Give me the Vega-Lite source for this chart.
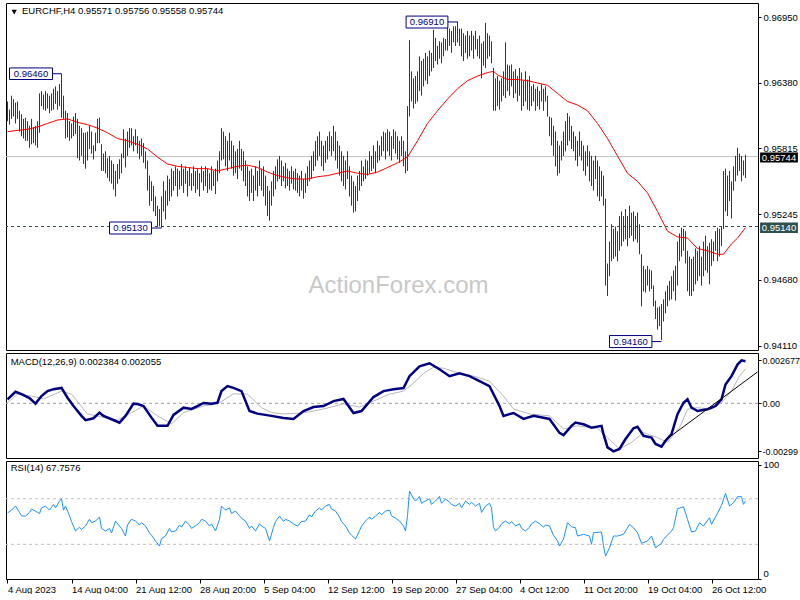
{
"$schema": "https://vega.github.io/schema/vega-lite/v6.json",
"background": "white",
"padding": {"left": 2, "top": 2, "right": 0, "bottom": 0},
"bounds": "flush",
"spacing": 3,
"config": {
 "view": {"stroke": "black", "strokeWidth": 1},
 "font": "Liberation Sans",
 "axis": {"labelFont": "Liberation Sans", "labelFontSize": 9.5, "labelColor": "black", "tickColor": "black", "domain": false, "grid": false, "title": null, "tickSize": 3, "labelPadding": 2, "labelFlush": false, "labelOverlap": false}
},
"datasets": {
"bars": [
{"i":0,"h":0.9622,"l":0.9605},{"i":1,"h":0.9615,"l":0.9602},{"i":2,"h":0.9627,"l":0.9607},{"i":3,"h":0.9624,"l":0.9609},{"i":4,"h":0.9621,"l":0.9603},{"i":5,"h":0.9622,"l":0.9607},{"i":6,"h":0.9614,"l":0.9596},{"i":7,"h":0.9611,"l":0.9592},{"i":8,"h":0.9607,"l":0.9590},{"i":9,"h":0.9608,"l":0.9588},
{"i":10,"h":0.9605,"l":0.9588},{"i":11,"h":0.9601,"l":0.9582},{"i":12,"h":0.9607,"l":0.9585},{"i":13,"h":0.9600,"l":0.9586},{"i":14,"h":0.9601,"l":0.9584},{"i":15,"h":0.9605,"l":0.9582},{"i":16,"h":0.9629,"l":0.9595},{"i":17,"h":0.9631,"l":0.9618},{"i":18,"h":0.9628,"l":0.9615},{"i":19,"h":0.9631,"l":0.9614},
{"i":20,"h":0.9629,"l":0.9616},{"i":21,"h":0.9627,"l":0.9612},{"i":22,"h":0.9629,"l":0.9614},{"i":23,"h":0.9633,"l":0.9615},{"i":24,"h":0.9635,"l":0.9620},{"i":25,"h":0.9631,"l":0.9615},{"i":26,"h":0.9637,"l":0.9618},{"i":27,"h":0.9646,"l":0.9608},{"i":28,"h":0.9627,"l":0.9607},{"i":29,"h":0.9614,"l":0.9590},
{"i":30,"h":0.9612,"l":0.9591},{"i":31,"h":0.9605,"l":0.9588},{"i":32,"h":0.9603,"l":0.9590},{"i":33,"h":0.9609,"l":0.9592},{"i":34,"h":0.9612,"l":0.9594},{"i":35,"h":0.9607,"l":0.9573},{"i":36,"h":0.9601,"l":0.9571},{"i":37,"h":0.9599,"l":0.9575},{"i":38,"h":0.9595,"l":0.9568},{"i":39,"h":0.9595,"l":0.9564},
{"i":40,"h":0.9596,"l":0.9571},{"i":41,"h":0.9601,"l":0.9581},{"i":42,"h":0.9596,"l":0.9577},{"i":43,"h":0.9584,"l":0.9572},{"i":44,"h":0.9595,"l":0.9579},{"i":45,"h":0.9607,"l":0.9586},{"i":46,"h":0.9608,"l":0.9586},{"i":47,"h":0.9585,"l":0.9562},{"i":48,"h":0.9577,"l":0.9562},{"i":49,"h":0.9579,"l":0.9560},
{"i":50,"h":0.9573,"l":0.9556},{"i":51,"h":0.9575,"l":0.9553},{"i":52,"h":0.9571,"l":0.9551},{"i":53,"h":0.9568,"l":0.9546},{"i":54,"h":0.9562,"l":0.9540},{"i":55,"h":0.9568,"l":0.9551},{"i":56,"h":0.9572,"l":0.9555},{"i":57,"h":0.9577,"l":0.9560},{"i":58,"h":0.9598,"l":0.9573},{"i":59,"h":0.9590,"l":0.9565},
{"i":60,"h":0.9596,"l":0.9575},{"i":61,"h":0.9599,"l":0.9582},{"i":62,"h":0.9599,"l":0.9584},{"i":63,"h":0.9592,"l":0.9579},{"i":64,"h":0.9598,"l":0.9584},{"i":65,"h":0.9592,"l":0.9577},{"i":66,"h":0.9588,"l":0.9572},{"i":67,"h":0.9590,"l":0.9575},{"i":68,"h":0.9586,"l":0.9569},{"i":69,"h":0.9579,"l":0.9564},
{"i":70,"h":0.9571,"l":0.9545},{"i":71,"h":0.9558,"l":0.9532},{"i":72,"h":0.9553,"l":0.9536},{"i":73,"h":0.9549,"l":0.9527},{"i":74,"h":0.9540,"l":0.9523},{"i":75,"h":0.9532,"l":0.9514},{"i":76,"h":0.9529,"l":0.9514},{"i":77,"h":0.9540,"l":0.9513},{"i":78,"h":0.9553,"l":0.9527},{"i":79,"h":0.9545,"l":0.9520},
{"i":80,"h":0.9558,"l":0.9532},{"i":81,"h":0.9555,"l":0.9536},{"i":82,"h":0.9564,"l":0.9540},{"i":83,"h":0.9562,"l":0.9545},{"i":84,"h":0.9566,"l":0.9549},{"i":85,"h":0.9564,"l":0.9540},{"i":86,"h":0.9562,"l":0.9546},{"i":87,"h":0.9568,"l":0.9549},{"i":88,"h":0.9564,"l":0.9543},{"i":89,"h":0.9566,"l":0.9551},
{"i":90,"h":0.9562,"l":0.9540},{"i":91,"h":0.9565,"l":0.9549},{"i":92,"h":0.9560,"l":0.9545},{"i":93,"h":0.9566,"l":0.9549},{"i":94,"h":0.9562,"l":0.9543},{"i":95,"h":0.9564,"l":0.9546},{"i":96,"h":0.9560,"l":0.9540},{"i":97,"h":0.9566,"l":0.9552},{"i":98,"h":0.9562,"l":0.9545},{"i":99,"h":0.9566,"l":0.9549},
{"i":100,"h":0.9564,"l":0.9543},{"i":101,"h":0.9560,"l":0.9546},{"i":102,"h":0.9566,"l":0.9545},{"i":103,"h":0.9562,"l":0.9549},{"i":104,"h":0.9564,"l":0.9542},{"i":105,"h":0.9571,"l":0.9553},{"i":106,"h":0.9579,"l":0.9560},{"i":107,"h":0.9599,"l":0.9571},{"i":108,"h":0.9596,"l":0.9572},{"i":109,"h":0.9592,"l":0.9566},
{"i":110,"h":0.9588,"l":0.9562},{"i":111,"h":0.9595,"l":0.9571},{"i":112,"h":0.9588,"l":0.9564},{"i":113,"h":0.9584,"l":0.9558},{"i":114,"h":0.9579,"l":0.9560},{"i":115,"h":0.9581,"l":0.9555},{"i":116,"h":0.9588,"l":0.9564},{"i":117,"h":0.9581,"l":0.9562},{"i":118,"h":0.9579,"l":0.9553},{"i":119,"h":0.9571,"l":0.9549},
{"i":120,"h":0.9566,"l":0.9540},{"i":121,"h":0.9562,"l":0.9536},{"i":122,"h":0.9564,"l":0.9543},{"i":123,"h":0.9558,"l":0.9536},{"i":124,"h":0.9566,"l":0.9545},{"i":125,"h":0.9562,"l":0.9540},{"i":126,"h":0.9571,"l":0.9549},{"i":127,"h":0.9564,"l":0.9545},{"i":128,"h":0.9566,"l":0.9540},{"i":129,"h":0.9558,"l":0.9532},
{"i":130,"h":0.9549,"l":0.9523},{"i":131,"h":0.9545,"l":0.9519},{"i":132,"h":0.9553,"l":0.9532},{"i":133,"h":0.9562,"l":0.9540},{"i":134,"h":0.9566,"l":0.9546},{"i":135,"h":0.9572,"l":0.9553},{"i":136,"h":0.9575,"l":0.9555},{"i":137,"h":0.9571,"l":0.9549},{"i":138,"h":0.9566,"l":0.9553},{"i":139,"h":0.9569,"l":0.9547},
{"i":140,"h":0.9564,"l":0.9549},{"i":141,"h":0.9562,"l":0.9545},{"i":142,"h":0.9566,"l":0.9551},{"i":143,"h":0.9562,"l":0.9546},{"i":144,"h":0.9564,"l":0.9545},{"i":145,"h":0.9560,"l":0.9543},{"i":146,"h":0.9558,"l":0.9540},{"i":147,"h":0.9562,"l":0.9545},{"i":148,"h":0.9555,"l":0.9538},{"i":149,"h":0.9560,"l":0.9543},
{"i":150,"h":0.9566,"l":0.9549},{"i":151,"h":0.9571,"l":0.9553},{"i":152,"h":0.9575,"l":0.9555},{"i":153,"h":0.9579,"l":0.9562},{"i":154,"h":0.9588,"l":0.9566},{"i":155,"h":0.9592,"l":0.9571},{"i":156,"h":0.9596,"l":0.9575},{"i":157,"h":0.9588,"l":0.9566},{"i":158,"h":0.9584,"l":0.9562},{"i":159,"h":0.9588,"l":0.9569},
{"i":160,"h":0.9592,"l":0.9572},{"i":161,"h":0.9596,"l":0.9579},{"i":162,"h":0.9592,"l":0.9575},{"i":163,"h":0.9601,"l":0.9579},{"i":164,"h":0.9596,"l":0.9571},{"i":165,"h":0.9588,"l":0.9564},{"i":166,"h":0.9584,"l":0.9558},{"i":167,"h":0.9579,"l":0.9553},{"i":168,"h":0.9575,"l":0.9549},{"i":169,"h":0.9571,"l":0.9546},
{"i":170,"h":0.9579,"l":0.9555},{"i":171,"h":0.9566,"l":0.9540},{"i":172,"h":0.9558,"l":0.9532},{"i":173,"h":0.9553,"l":0.9526},{"i":174,"h":0.9549,"l":0.9527},{"i":175,"h":0.9558,"l":0.9536},{"i":176,"h":0.9562,"l":0.9545},{"i":177,"h":0.9571,"l":0.9549},{"i":178,"h":0.9566,"l":0.9553},{"i":179,"h":0.9572,"l":0.9555},
{"i":180,"h":0.9571,"l":0.9558},{"i":181,"h":0.9579,"l":0.9560},{"i":182,"h":0.9575,"l":0.9562},{"i":183,"h":0.9584,"l":0.9564},{"i":184,"h":0.9579,"l":0.9560},{"i":185,"h":0.9588,"l":0.9569},{"i":186,"h":0.9584,"l":0.9571},{"i":187,"h":0.9592,"l":0.9575},{"i":188,"h":0.9596,"l":0.9579},{"i":189,"h":0.9595,"l":0.9572},
{"i":190,"h":0.9598,"l":0.9579},{"i":191,"h":0.9596,"l":0.9575},{"i":192,"h":0.9592,"l":0.9571},{"i":193,"h":0.9598,"l":0.9581},{"i":194,"h":0.9596,"l":0.9577},{"i":195,"h":0.9592,"l":0.9572},{"i":196,"h":0.9588,"l":0.9569},{"i":197,"h":0.9592,"l":0.9575},{"i":198,"h":0.9588,"l":0.9566},{"i":199,"h":0.9579,"l":0.9560},
{"i":200,"h":0.9618,"l":0.9562},{"i":201,"h":0.9675,"l":0.9609},{"i":202,"h":0.9648,"l":0.9622},{"i":203,"h":0.9642,"l":0.9616},{"i":204,"h":0.9644,"l":0.9620},{"i":205,"h":0.9648,"l":0.9622},{"i":206,"h":0.9661,"l":0.9631},{"i":207,"h":0.9657,"l":0.9627},{"i":208,"h":0.9659,"l":0.9635},{"i":209,"h":0.9664,"l":0.9640},
{"i":210,"h":0.9661,"l":0.9637},{"i":211,"h":0.9666,"l":0.9644},{"i":212,"h":0.9664,"l":0.9648},{"i":213,"h":0.9684,"l":0.9651},{"i":214,"h":0.9677,"l":0.9657},{"i":215,"h":0.9670,"l":0.9654},{"i":216,"h":0.9674,"l":0.9659},{"i":217,"h":0.9673,"l":0.9655},{"i":218,"h":0.9677,"l":0.9661},{"i":219,"h":0.9676,"l":0.9666},
{"i":220,"h":0.9687,"l":0.9666},{"i":221,"h":0.9685,"l":0.9670},{"i":222,"h":0.9683,"l":0.9664},{"i":223,"h":0.9687,"l":0.9673},{"i":224,"h":0.9687,"l":0.9670},{"i":225,"h":0.9691,"l":0.9673},{"i":226,"h":0.9685,"l":0.9670},{"i":227,"h":0.9685,"l":0.9661},{"i":228,"h":0.9681,"l":0.9657},{"i":229,"h":0.9679,"l":0.9664},
{"i":230,"h":0.9683,"l":0.9659},{"i":231,"h":0.9679,"l":0.9661},{"i":232,"h":0.9683,"l":0.9666},{"i":233,"h":0.9679,"l":0.9659},{"i":234,"h":0.9683,"l":0.9667},{"i":235,"h":0.9676,"l":0.9661},{"i":236,"h":0.9679,"l":0.9659},{"i":237,"h":0.9672,"l":0.9642},{"i":238,"h":0.9674,"l":0.9653},{"i":239,"h":0.9690,"l":0.9651},
{"i":240,"h":0.9681,"l":0.9659},{"i":241,"h":0.9679,"l":0.9661},{"i":242,"h":0.9674,"l":0.9655},{"i":243,"h":0.9651,"l":0.9614},{"i":244,"h":0.9642,"l":0.9614},{"i":245,"h":0.9644,"l":0.9618},{"i":246,"h":0.9640,"l":0.9615},{"i":247,"h":0.9642,"l":0.9622},{"i":248,"h":0.9648,"l":0.9627},{"i":249,"h":0.9673,"l":0.9625},
{"i":250,"h":0.9654,"l":0.9631},{"i":251,"h":0.9653,"l":0.9627},{"i":252,"h":0.9654,"l":0.9635},{"i":253,"h":0.9648,"l":0.9625},{"i":254,"h":0.9650,"l":0.9629},{"i":255,"h":0.9644,"l":0.9622},{"i":256,"h":0.9651,"l":0.9627},{"i":257,"h":0.9647,"l":0.9614},{"i":258,"h":0.9640,"l":0.9618},{"i":259,"h":0.9648,"l":0.9622},
{"i":260,"h":0.9641,"l":0.9615},{"i":261,"h":0.9644,"l":0.9614},{"i":262,"h":0.9635,"l":0.9618},{"i":263,"h":0.9637,"l":0.9622},{"i":264,"h":0.9633,"l":0.9614},{"i":265,"h":0.9635,"l":0.9618},{"i":266,"h":0.9631,"l":0.9615},{"i":267,"h":0.9637,"l":0.9622},{"i":268,"h":0.9633,"l":0.9614},{"i":269,"h":0.9635,"l":0.9622},
{"i":270,"h":0.9627,"l":0.9609},{"i":271,"h":0.9609,"l":0.9592},{"i":272,"h":0.9608,"l":0.9584},{"i":273,"h":0.9601,"l":0.9575},{"i":274,"h":0.9596,"l":0.9566},{"i":275,"h":0.9588,"l":0.9558},{"i":276,"h":0.9584,"l":0.9560},{"i":277,"h":0.9588,"l":0.9571},{"i":278,"h":0.9596,"l":0.9575},{"i":279,"h":0.9605,"l":0.9579},
{"i":280,"h":0.9612,"l":0.9584},{"i":281,"h":0.9609,"l":0.9588},{"i":282,"h":0.9601,"l":0.9581},{"i":283,"h":0.9596,"l":0.9579},{"i":284,"h":0.9592,"l":0.9571},{"i":285,"h":0.9588,"l":0.9566},{"i":286,"h":0.9596,"l":0.9575},{"i":287,"h":0.9588,"l":0.9571},{"i":288,"h":0.9584,"l":0.9562},{"i":289,"h":0.9579,"l":0.9558},
{"i":290,"h":0.9584,"l":0.9566},{"i":291,"h":0.9579,"l":0.9553},{"i":292,"h":0.9575,"l":0.9549},{"i":293,"h":0.9571,"l":0.9545},{"i":294,"h":0.9575,"l":0.9555},{"i":295,"h":0.9571,"l":0.9540},{"i":296,"h":0.9566,"l":0.9536},{"i":297,"h":0.9562,"l":0.9540},{"i":298,"h":0.9558,"l":0.9532},{"i":299,"h":0.9538,"l":0.9463},
{"i":300,"h":0.9482,"l":0.9454},{"i":301,"h":0.9501,"l":0.9471},{"i":302,"h":0.9516,"l":0.9484},{"i":303,"h":0.9512,"l":0.9486},{"i":304,"h":0.9514,"l":0.9488},{"i":305,"h":0.9510,"l":0.9484},{"i":306,"h":0.9523,"l":0.9493},{"i":307,"h":0.9527,"l":0.9497},{"i":308,"h":0.9523,"l":0.9501},{"i":309,"h":0.9529,"l":0.9503},
{"i":310,"h":0.9523,"l":0.9497},{"i":311,"h":0.9532,"l":0.9504},{"i":312,"h":0.9526,"l":0.9506},{"i":313,"h":0.9527,"l":0.9501},{"i":314,"h":0.9523,"l":0.9503},{"i":315,"h":0.9526,"l":0.9500},{"i":316,"h":0.9516,"l":0.9490},{"i":317,"h":0.9490,"l":0.9445},{"i":318,"h":0.9480,"l":0.9458},{"i":319,"h":0.9477,"l":0.9457},
{"i":320,"h":0.9480,"l":0.9463},{"i":321,"h":0.9477,"l":0.9458},{"i":322,"h":0.9476,"l":0.9460},{"i":323,"h":0.9463,"l":0.9445},{"i":324,"h":0.9450,"l":0.9434},{"i":325,"h":0.9444,"l":0.9425},{"i":326,"h":0.9445,"l":0.9428},{"i":327,"h":0.9447,"l":0.9416},{"i":328,"h":0.9451,"l":0.9432},{"i":329,"h":0.9458,"l":0.9439},
{"i":330,"h":0.9463,"l":0.9445},{"i":331,"h":0.9467,"l":0.9450},{"i":332,"h":0.9471,"l":0.9451},{"i":333,"h":0.9476,"l":0.9458},{"i":334,"h":0.9480,"l":0.9450},{"i":335,"h":0.9501,"l":0.9463},{"i":336,"h":0.9508,"l":0.9484},{"i":337,"h":0.9513,"l":0.9488},{"i":338,"h":0.9512,"l":0.9493},{"i":339,"h":0.9510,"l":0.9482},
{"i":340,"h":0.9493,"l":0.9458},{"i":341,"h":0.9488,"l":0.9454},{"i":342,"h":0.9486,"l":0.9454},{"i":343,"h":0.9488,"l":0.9458},{"i":344,"h":0.9495,"l":0.9464},{"i":345,"h":0.9493,"l":0.9467},{"i":346,"h":0.9497,"l":0.9471},{"i":347,"h":0.9488,"l":0.9463},{"i":348,"h":0.9501,"l":0.9471},{"i":349,"h":0.9506,"l":0.9476},
{"i":350,"h":0.9497,"l":0.9474},{"i":351,"h":0.9500,"l":0.9464},{"i":352,"h":0.9503,"l":0.9480},{"i":353,"h":0.9501,"l":0.9484},{"i":354,"h":0.9510,"l":0.9493},{"i":355,"h":0.9513,"l":0.9484},{"i":356,"h":0.9512,"l":0.9488},{"i":357,"h":0.9514,"l":0.9497},{"i":358,"h":0.9562,"l":0.9512},{"i":359,"h":0.9564,"l":0.9527},
{"i":360,"h":0.9558,"l":0.9523},{"i":361,"h":0.9562,"l":0.9536},{"i":362,"h":0.9553,"l":0.9521},{"i":363,"h":0.9566,"l":0.9545},{"i":364,"h":0.9575,"l":0.9553},{"i":365,"h":0.9582,"l":0.9558},{"i":366,"h":0.9577,"l":0.9562},{"i":367,"h":0.9575,"l":0.9553},{"i":368,"h":0.9571,"l":0.9558},{"i":369,"h":0.9576,"l":0.9556}
],
"ma": [
{"i":0,"v":0.9596},{"i":5,"v":0.9597},{"i":10,"v":0.9598},{"i":15,"v":0.9600},{"i":20,"v":0.9603},{"i":25,"v":0.9606},{"i":30,"v":0.9607},{"i":35,"v":0.9604},{"i":40,"v":0.9602},{"i":45,"v":0.9599},{"i":50,"v":0.9595},{"i":55,"v":0.9590},{"i":60,"v":0.9588},{"i":65,"v":0.9585},{"i":70,"v":0.9581},{"i":75,"v":0.9574},{"i":80,"v":0.9568},{"i":85,"v":0.9566},{"i":90,"v":0.9565},{"i":95,"v":0.9564},{"i":100,"v":0.9564},{"i":105,"v":0.9562},{"i":110,"v":0.9564},{"i":115,"v":0.9566},{"i":120,"v":0.9567},{"i":125,"v":0.9565},{"i":130,"v":0.9561},{"i":135,"v":0.9558},{"i":140,"v":0.9556},{"i":145,"v":0.9555},{"i":150,"v":0.9555},{"i":155,"v":0.9557},{"i":160,"v":0.9558},{"i":165,"v":0.9560},{"i":170,"v":0.9562},{"i":175,"v":0.9560},{"i":180,"v":0.9559},{"i":185,"v":0.9561},{"i":190,"v":0.9565},{"i":195,"v":0.9569},{"i":200,"v":0.9574},{"i":205,"v":0.9588},{"i":210,"v":0.9603},{"i":215,"v":0.9614},{"i":220,"v":0.9624},{"i":225,"v":0.9633},{"i":230,"v":0.9640},{"i":235,"v":0.9644},{"i":240,"v":0.9647},{"i":243,"v":0.9648},{"i":245,"v":0.9645},{"i":250,"v":0.9641},{"i":255,"v":0.9641},{"i":260,"v":0.9640},{"i":265,"v":0.9638},{"i":270,"v":0.9636},{"i":275,"v":0.9629},{"i":280,"v":0.9622},{"i":285,"v":0.9619},{"i":290,"v":0.9614},{"i":295,"v":0.9603},{"i":300,"v":0.9590},{"i":305,"v":0.9575},{"i":310,"v":0.9560},{"i":315,"v":0.9553},{"i":320,"v":0.9543},{"i":325,"v":0.9527},{"i":330,"v":0.9510},{"i":335,"v":0.9505},{"i":340,"v":0.9504},{"i":345,"v":0.9495},{"i":350,"v":0.9493},{"i":355,"v":0.9490},{"i":358,"v":0.9490},{"i":362,"v":0.9499},{"i":365,"v":0.9504},{"i":369,"v":0.9513}
],
"macd": [
{"i":0,"v":0.00025},{"i":4,"v":0.00072},{"i":7,"v":0.00057},{"i":11,"v":0.00033},{"i":14,"v":-0.00002},{"i":17,"v":0.00045},{"i":20,"v":0.00076},{"i":23,"v":0.00088},{"i":27,"v":0.00096},{"i":30,"v":0.00035},{"i":33,"v":-0.00017},{"i":37,"v":-0.00078},{"i":39,"v":-0.00105},{"i":43,"v":-0.00093},{"i":46,"v":-0.00058},{"i":48,"v":-0.00078},{"i":52,"v":-0.00099},{"i":56,"v":-0.0012},{"i":59,"v":-0.00078},{"i":63,"v":-0.00002},{"i":65,"v":-0.00004},{"i":68,"v":-0.00017},{"i":72,"v":-0.00089},{"i":75,"v":-0.0014},{"i":80,"v":-0.0014},{"i":83,"v":-0.00072},{"i":88,"v":-0.00027},{"i":92,"v":-0.00035},{"i":95,"v":-0.00017},{"i":98,"v":0.00002},{"i":102,"v":-0.00002},{"i":105,"v":0.00004},{"i":107,"v":0.00076},{"i":110,"v":0.00107},{"i":113,"v":0.00096},{"i":117,"v":0.00076},{"i":121,"v":-0.00048},{"i":125,"v":-0.00064},{"i":132,"v":-0.00078},{"i":138,"v":-0.00091},{"i":143,"v":-0.00097},{"i":148,"v":-0.00048},{"i":153,"v":-0.00023},{"i":158,"v":-0.00017},{"i":163,"v":0.00014},{"i":168,"v":0.00027},{"i":173,"v":-0.0006},{"i":177,"v":-0.00048},{"i":183,"v":0.00039},{"i":188,"v":0.00076},{"i":193,"v":0.00088},{"i":198,"v":0.00095},{"i":201,"v":0.00169},{"i":206,"v":0.0023},{"i":211,"v":0.00249},{"i":216,"v":0.00212},{"i":221,"v":0.00169},{"i":226,"v":0.00187},{"i":231,"v":0.00169},{"i":236,"v":0.00138},{"i":241,"v":0.00107},{"i":246,"v":-0.00017},{"i":248,"v":-0.00078},{"i":253,"v":-0.0006},{"i":258,"v":-0.00097},{"i":263,"v":-0.00078},{"i":271,"v":-0.00097},{"i":276,"v":-0.00184},{"i":278,"v":-0.00198},{"i":282,"v":-0.0014},{"i":284,"v":-0.0012},{"i":288,"v":-0.0013},{"i":292,"v":-0.00151},{"i":297,"v":-0.0014},{"i":298,"v":-0.00192},{"i":300,"v":-0.00274},{"i":303,"v":-0.00299},{"i":306,"v":-0.00284},{"i":309,"v":-0.00222},{"i":313,"v":-0.00155},{"i":315,"v":-0.00146},{"i":318,"v":-0.00202},{"i":322,"v":-0.00213},{"i":324,"v":-0.00253},{"i":327,"v":-0.0027},{"i":329,"v":-0.00233},{"i":332,"v":-0.00192},{"i":335,"v":-0.00068},{"i":338,"v":0.00004},{"i":340,"v":0.00025},{"i":342,"v":-0.00027},{"i":345,"v":-0.00048},{"i":350,"v":-0.00037},{"i":354,"v":-0.00017},{"i":357,"v":0.00025},{"i":359,"v":0.00117},{"i":362,"v":0.00169},{"i":365,"v":0.00241},{"i":367,"v":0.002677},{"i":369,"v":0.00262}
],
"sig": [
{"i":0,"v":0.00004},{"i":5,"v":0.00057},{"i":12,"v":0.00045},{"i":18,"v":0.00027},{"i":27,"v":0.00076},{"i":32,"v":0.00057},{"i":40,"v":-0.00066},{"i":47,"v":-0.00085},{"i":55,"v":-0.00103},{"i":62,"v":-0.00058},{"i":68,"v":-0.00017},{"i":75,"v":-0.00078},{"i":82,"v":-0.00128},{"i":88,"v":-0.00058},{"i":98,"v":-0.00017},{"i":105,"v":-0.00004},{"i":113,"v":0.00059},{"i":120,"v":0.00057},{"i":127,"v":-0.00027},{"i":132,"v":-0.00058},{"i":138,"v":-0.00066},{"i":148,"v":-0.0006},{"i":158,"v":-0.00035},{"i":168,"v":-0.00004},{"i":176,"v":-0.00023},{"i":183,"v":0.00014},{"i":191,"v":0.00057},{"i":198,"v":0.00076},{"i":203,"v":0.00125},{"i":208,"v":0.00187},{"i":213,"v":0.00224},{"i":218,"v":0.00218},{"i":226,"v":0.00187},{"i":233,"v":0.00169},{"i":241,"v":0.00138},{"i":248,"v":0.00045},{"i":253,"v":-0.00035},{"i":261,"v":-0.00066},{"i":271,"v":-0.00078},{"i":278,"v":-0.00159},{"i":285,"v":-0.0014},{"i":295,"v":-0.00155},{"i":300,"v":-0.00213},{"i":306,"v":-0.00284},{"i":312,"v":-0.00243},{"i":318,"v":-0.00182},{"i":325,"v":-0.00213},{"i":330,"v":-0.00243},{"i":336,"v":-0.00151},{"i":340,"v":-0.00037},{"i":345,"v":-0.00027},{"i":352,"v":-0.00037},{"i":357,"v":0.00004},{"i":362,"v":0.00076},{"i":366,"v":0.00169},{"i":369,"v":0.00215}
],
"rsi": [
{"i":0,"v":57.5},{"i":2,"v":60},{"i":4,"v":63.6},{"i":6,"v":58},{"i":7,"v":55},{"i":9,"v":54.8},{"i":11,"v":58},{"i":12,"v":61},{"i":14,"v":59.2},{"i":16,"v":57},{"i":17,"v":62},{"i":19,"v":63.6},{"i":21,"v":60},{"i":23,"v":65},{"i":24,"v":62},{"i":26,"v":68},{"i":27,"v":70},{"i":28,"v":60},{"i":29,"v":63.6},{"i":31,"v":55},{"i":32,"v":50},{"i":34,"v":41.7},{"i":36,"v":45},{"i":37,"v":43},{"i":39,"v":46.1},{"i":41,"v":52},{"i":42,"v":49},{"i":44,"v":50.4},{"i":46,"v":54},{"i":47,"v":44},{"i":49,"v":41.7},{"i":51,"v":44},{"i":52,"v":40},{"i":54,"v":50.4},{"i":56,"v":46},{"i":57,"v":44},{"i":59,"v":37.3},{"i":60,"v":47},{"i":62,"v":52},{"i":64,"v":50.4},{"i":66,"v":47},{"i":67,"v":49},{"i":69,"v":46.1},{"i":71,"v":40},{"i":72,"v":38},{"i":74,"v":32.9},{"i":76,"v":28.5},{"i":77,"v":35},{"i":79,"v":37.3},{"i":81,"v":44},{"i":82,"v":41},{"i":84,"v":41.7},{"i":86,"v":47},{"i":87,"v":45},{"i":89,"v":50.4},{"i":91,"v":47},{"i":92,"v":44},{"i":94,"v":46.1},{"i":96,"v":49},{"i":97,"v":52},{"i":99,"v":50.4},{"i":101,"v":46},{"i":102,"v":48},{"i":104,"v":41.7},{"i":106,"v":52},{"i":107,"v":63.6},{"i":109,"v":60},{"i":111,"v":62},{"i":112,"v":57},{"i":114,"v":59.2},{"i":116,"v":55},{"i":117,"v":53},{"i":119,"v":50.4},{"i":121,"v":44},{"i":122,"v":46},{"i":124,"v":41.7},{"i":126,"v":48},{"i":127,"v":46.1},{"i":129,"v":44},{"i":131,"v":32.9},{"i":133,"v":45},{"i":134,"v":50},{"i":136,"v":54.8},{"i":138,"v":50},{"i":139,"v":52},{"i":141,"v":50.4},{"i":143,"v":48},{"i":145,"v":46},{"i":147,"v":50},{"i":149,"v":50.4},{"i":151,"v":56},{"i":152,"v":54},{"i":154,"v":59.2},{"i":156,"v":62},{"i":157,"v":60},{"i":159,"v":63.6},{"i":161,"v":65},{"i":162,"v":61},{"i":164,"v":59.2},{"i":166,"v":54},{"i":167,"v":50},{"i":169,"v":46.1},{"i":171,"v":40},{"i":172,"v":38},{"i":174,"v":34.6},{"i":176,"v":42},{"i":177,"v":46},{"i":179,"v":50.4},{"i":181,"v":54},{"i":182,"v":52},{"i":184,"v":54.8},{"i":186,"v":58},{"i":187,"v":56},{"i":189,"v":59.2},{"i":191,"v":60},{"i":192,"v":55},{"i":194,"v":53},{"i":196,"v":50.4},{"i":198,"v":46},{"i":199,"v":41.7},{"i":200,"v":55},{"i":201,"v":76.8},{"i":203,"v":70},{"i":204,"v":68},{"i":206,"v":72},{"i":207,"v":66},{"i":209,"v":68},{"i":211,"v":70},{"i":212,"v":65},{"i":214,"v":68},{"i":216,"v":72},{"i":217,"v":66},{"i":219,"v":69.7},{"i":221,"v":67},{"i":222,"v":65},{"i":224,"v":63.6},{"i":226,"v":66},{"i":227,"v":62},{"i":229,"v":68},{"i":231,"v":65},{"i":232,"v":67},{"i":234,"v":63.6},{"i":236,"v":66},{"i":237,"v":58},{"i":239,"v":63.6},{"i":241,"v":66},{"i":242,"v":62},{"i":243,"v":45},{"i":244,"v":41.7},{"i":246,"v":45},{"i":247,"v":48},{"i":249,"v":50.4},{"i":251,"v":48},{"i":252,"v":50},{"i":254,"v":46.1},{"i":256,"v":48},{"i":257,"v":44},{"i":259,"v":41.7},{"i":261,"v":45},{"i":262,"v":48},{"i":264,"v":50.4},{"i":266,"v":48},{"i":268,"v":45},{"i":269,"v":47},{"i":271,"v":46.1},{"i":273,"v":38},{"i":275,"v":33},{"i":276,"v":28.5},{"i":278,"v":34.6},{"i":280,"v":49},{"i":282,"v":45.4},{"i":284,"v":44.6},{"i":285,"v":37.3},{"i":288,"v":38.8},{"i":291,"v":37.3},{"i":292,"v":30},{"i":293,"v":40.2},{"i":297,"v":40.8},{"i":298,"v":28.5},{"i":299,"v":19.7},{"i":301,"v":27},{"i":303,"v":37.3},{"i":305,"v":37.3},{"i":308,"v":38.8},{"i":311,"v":47.5},{"i":313,"v":44.6},{"i":315,"v":40.2},{"i":317,"v":30.9},{"i":320,"v":32.9},{"i":322,"v":37.3},{"i":324,"v":27},{"i":327,"v":30.9},{"i":328,"v":34.4},{"i":332,"v":41.7},{"i":333,"v":44.6},{"i":335,"v":61.2},{"i":338,"v":63},{"i":340,"v":51.9},{"i":342,"v":40.8},{"i":344,"v":41.7},{"i":346,"v":48.9},{"i":348,"v":46.1},{"i":351,"v":53.3},{"i":352,"v":47.5},{"i":355,"v":57.2},{"i":357,"v":64.2},{"i":359,"v":74.7},{"i":361,"v":63.6},{"i":363,"v":66.5},{"i":365,"v":71.8},{"i":367,"v":71.8},{"i":368,"v":65.1},{"i":369,"v":67.8}
],
"tags": [
{"x1":1,"x2":22.5,"yb":0.9641,"yt":0.9651,"t":"0.96460","tx":11.75,"ty":0.9646,"c2":27},
{"x1":199.3,"x2":220.2,"yb":0.96855,"yt":0.96958,"t":"0.96910","tx":209.75,"ty":0.96907,"c2":225},
{"x1":51,"x2":72,"yb":0.95075,"yt":0.95179,"t":"0.95130","tx":61.5,"ty":0.95127,"c2":77},
{"x1":301,"x2":322.2,"yb":0.94094,"yt":0.94198,"t":"0.94160","tx":311.6,"ty":0.94146,"c2":327}
],
"marks": [
{"x1":376.3,"x2":395.2,"yb":0.95693,"yt":0.95779,"t":"0.95744","tx":385.75,"ty":0.95736,"c":"black"},
{"x1":376.3,"x2":395.2,"yb":0.95083,"yt":0.95174,"t":"0.95140","tx":385.75,"ty":0.95128,"c":"#2f4f4f"}
]
},
"vconcat": [
{
 "width": 752, "height": 347,
 "encoding": {
  "x": {"type": "quantitative", "scale": {"domain": [-0.75, 375.25], "nice": false, "zero": false}, "axis": null}
 },
 "layer": [
  {"data": {"values": [{"v": 0.95744}]}, "mark": {"type": "rule", "color": "#c0c0c0", "strokeWidth": 1},
   "encoding": {"x": null, "y": {"field": "v", "type": "quantitative", "scale": {"domain": [0.94073, 0.97071], "nice": false, "zero": false},
     "axis": {"orient": "right", "values": [0.9695, 0.96665, 0.9638, 0.961, 0.95815, 0.9553, 0.95245, 0.9496, 0.9468, 0.94395, 0.9411], "format": ".5f"}}}},
  {"data": {"values": [{"v": 0.9514}]}, "mark": {"type": "rule", "color": "#2f4f4f", "strokeWidth": 1, "strokeDash": [3, 3]},
   "encoding": {"x": null, "y": {"field": "v", "type": "quantitative"}}},
  {"data": {"values": [{"t": "ActionForex.com", "i": 195.5, "v": 0.9463}]}, "mark": {"type": "text", "fontSize": 24, "color": "#c8c8c8", "align": "center", "baseline": "middle", "font": "Liberation Sans"},
   "encoding": {"x": {"field": "i", "type": "quantitative"}, "y": {"field": "v", "type": "quantitative"}, "text": {"field": "t"}}},
  {"data": {"name": "bars"}, "mark": {"type": "rule", "color": "#173f5f", "strokeWidth": 1},
   "encoding": {"x": {"field": "i", "type": "quantitative"}, "y": {"field": "l", "type": "quantitative"}, "y2": {"field": "h"}}},
  {"data": {"name": "ma"}, "mark": {"type": "line", "color": "#ff0000", "strokeWidth": 1},
   "encoding": {"x": {"field": "i", "type": "quantitative"}, "y": {"field": "v", "type": "quantitative"}}},
  {"data": {"name": "tags"}, "mark": {"type": "rule", "color": "#000080", "strokeWidth": 1},
   "encoding": {"x": {"field": "x2", "type": "quantitative"}, "x2": {"field": "c2"}, "y": {"field": "ty", "type": "quantitative"}}},
  {"data": {"name": "tags"}, "mark": {"type": "rect", "fill": "white", "stroke": "#000080", "strokeWidth": 1},
   "encoding": {"x": {"field": "x1", "type": "quantitative"}, "x2": {"field": "x2"}, "y": {"field": "yb", "type": "quantitative"}, "y2": {"field": "yt"}}},
  {"data": {"name": "tags"}, "mark": {"type": "text", "fontSize": 9.5, "color": "#000080", "align": "center", "baseline": "middle"},
   "encoding": {"x": {"field": "tx", "type": "quantitative"}, "y": {"field": "ty", "type": "quantitative"}, "text": {"field": "t"}}},
  {"data": {"name": "marks"}, "mark": {"type": "rect", "strokeWidth": 0},
   "encoding": {"x": {"field": "x1", "type": "quantitative"}, "x2": {"field": "x2"}, "y": {"field": "yb", "type": "quantitative"}, "y2": {"field": "yt"}, "fill": {"field": "c", "type": "nominal", "scale": null}}},
  {"data": {"name": "marks"}, "mark": {"type": "text", "fontSize": 9.5, "color": "white", "align": "center", "baseline": "middle"},
   "encoding": {"x": {"field": "tx", "type": "quantitative"}, "y": {"field": "ty", "type": "quantitative"}, "text": {"field": "t"}}},
  {"data": {"values": [{"i": 3.35, "v": 0.96992}]}, "mark": {"type": "point", "shape": "triangle-down", "size": 28, "filled": true, "color": "black", "opacity": 1},
   "encoding": {"x": {"field": "i", "type": "quantitative"}, "y": {"field": "v", "type": "quantitative"}}},
  {"data": {"values": [{"t": "EURCHF,H4  0.95571 0.95756 0.95558 0.95744", "i": 7.25, "v": 0.96998}]}, "mark": {"type": "text", "fontSize": 9.5, "color": "black", "align": "left", "baseline": "middle"},
   "encoding": {"x": {"field": "i", "type": "quantitative"}, "y": {"field": "v", "type": "quantitative"}, "text": {"field": "t"}}}
 ]
},
{
 "width": 752, "height": 105,
 "encoding": {
  "x": {"type": "quantitative", "scale": {"domain": [-0.75, 375.25], "nice": false, "zero": false}, "axis": null}
 },
 "layer": [
  {"data": {"values": [{"v": 0}]}, "mark": {"type": "rule", "color": "#a0a0a0", "strokeWidth": 1, "strokeDash": [3, 3]},
   "encoding": {"x": null, "y": {"field": "v", "type": "quantitative", "scale": {"domain": [-0.0034, 0.00313], "nice": false, "zero": false},
     "axis": {"orient": "right", "values": [0.002677, 0, -0.00299], "labelPadding": 1, "labelFontSize": 9, "labelExpr": "datum.value == 0 ? '0.00' : (datum.value > 0 ? '0.002677' : '-0.00299')"}}}},
  {"data": {"name": "sig"}, "mark": {"type": "line", "color": "#b8b8b8", "strokeWidth": 1},
   "encoding": {"x": {"field": "i", "type": "quantitative"}, "y": {"field": "v", "type": "quantitative"}}},
  {"data": {"name": "macd"}, "mark": {"type": "line", "color": "#000080", "strokeWidth": 2.5},
   "encoding": {"x": {"field": "i", "type": "quantitative"}, "y": {"field": "v", "type": "quantitative"}}},
  {"data": {"values": [{"i": 328.5, "v": -0.00233}, {"i": 375, "v": 0.00195}]}, "mark": {"type": "line", "color": "black", "strokeWidth": 1},
   "encoding": {"x": {"field": "i", "type": "quantitative"}, "y": {"field": "v", "type": "quantitative"}}},
  {"data": {"values": [{"t": "MACD(12,26,9) 0.002384 0.002055", "i": 1.6, "v": 0.00257}]}, "mark": {"type": "text", "fontSize": 9.5, "color": "black", "align": "left", "baseline": "middle"},
   "encoding": {"x": {"field": "i", "type": "quantitative"}, "y": {"field": "v", "type": "quantitative"}, "text": {"field": "t"}}}
 ]
},
{
 "width": 752, "height": 118,
 "encoding": {
  "x": {"type": "quantitative", "scale": {"domain": [-0.75, 375.25], "nice": false, "zero": false},
   "axis": {"values": [0, 32, 64, 96, 128, 160, 192, 224, 256, 288, 320, 352], "labelExpr": "['4 Aug 2023','14 Aug 04:00','21 Aug 12:00','28 Aug 20:00','5 Sep 04:00','12 Sep 12:00','19 Sep 20:00','27 Sep 04:00','4 Oct 12:00','11 Oct 20:00','19 Oct 04:00','26 Oct 12:00'][round(datum.value / 32)]", "labelAlign": "left", "labelBaseline": "top", "labelPadding": 1, "tickSize": 4, "labelFlush": false}}
 },
 "layer": [
  {"data": {"values": [{"v": 70}, {"v": 30}]}, "mark": {"type": "rule", "color": "#c0c0c0", "strokeWidth": 1, "strokeDash": [3, 3]},
   "encoding": {"x": null, "y": {"field": "v", "type": "quantitative", "scale": {"domain": [-0.4, 103.1], "nice": false, "zero": false},
     "axis": {"orient": "right", "values": [100, 70, 30, 0], "labelFlush": true}}}},
  {"data": {"name": "rsi"}, "mark": {"type": "line", "color": "#1e90ff", "strokeWidth": 1},
   "encoding": {"x": {"field": "i", "type": "quantitative"}, "y": {"field": "v", "type": "quantitative"}}},
  {"data": {"values": [{"t": "RSI(14) 67.7576", "i": 1.6, "v": 97.2}]}, "mark": {"type": "text", "fontSize": 9.5, "color": "black", "align": "left", "baseline": "middle"},
   "encoding": {"x": {"field": "i", "type": "quantitative"}, "y": {"field": "v", "type": "quantitative"}, "text": {"field": "t"}}}
 ]
}
]
}
